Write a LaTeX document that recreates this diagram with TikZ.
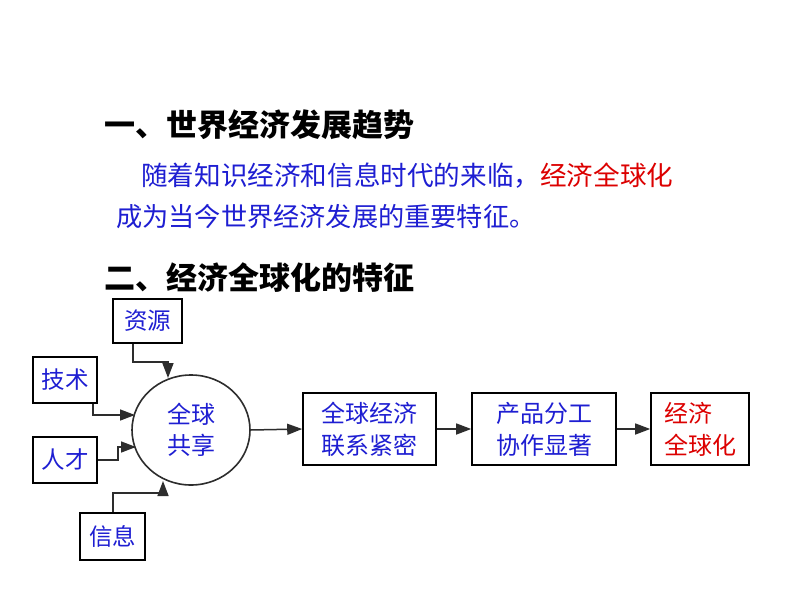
\documentclass[tikz,border=0pt]{standalone}
\usepackage{fontspec}
\setmainfont{Noto Sans CJK SC}
\newfontfamily\cjk{Noto Sans CJK SC}
\usetikzlibrary{arrows.meta,shapes.geometric}
\definecolor{txtblue}{RGB}{30,30,210}
\definecolor{txtred}{RGB}{220,0,0}
\definecolor{linegray}{RGB}{45,45,45}
\tikzset{
  box/.style={draw=black,line width=1.6pt,inner sep=0pt,font=\cjk\fontsize{23.5}{29}\selectfont,text=txtblue,align=center},
  conn/.style={draw=linegray,line width=1.5pt,-{Triangle[length=15pt,width=11pt]}},
  plain/.style={inner sep=0pt,anchor=west}
}
\begin{document}
\begin{tikzpicture}[x=1pt,y=-1pt]
\useasboundingbox (0,0) rectangle (794,596);
\fill[white] (0,0) rectangle (794,596);
% text
\node[plain,font=\cjk\bfseries\fontsize{31}{36}\selectfont] (h1) at (104,125) {一、世界经济发展趋势};
\node[plain,font=\cjk\fontsize{26.6}{32}\selectfont,text=txtblue] (l1) at (141,176) {随着知识经济和信息时代的来临，\textcolor{txtred}{经济全球化}};
\node[plain,font=\cjk\fontsize{26.2}{32}\selectfont,text=txtblue] (l2) at (116,217) {成为当今世界经济发展的重要特征。};
\node[plain,font=\cjk\bfseries\fontsize{31}{36}\selectfont] (h2) at (104,278) {二、经济全球化的特征};
% input boxes
\node[box,minimum width=69pt,minimum height=44pt] (zy) at (147.5,321) {资源};
\node[box,minimum width=64pt,minimum height=46pt] (js) at (65,380) {技术};
\node[box,minimum width=64pt,minimum height=46pt] (rc) at (65,460) {人才};
\node[box,minimum width=65pt,minimum height=47pt] (xx) at (112.5,536.5) {信息};
% circle
\node[draw=linegray,line width=1.6pt,ellipse,minimum width=118pt,minimum height=110pt,inner sep=0pt,
  font=\cjk\fontsize{24}{31}\selectfont,text=txtblue,align=center] (gq) at (191,430) {全球\\共享};
% chain boxes
\node[box,minimum width=133pt,minimum height=72pt,font=\cjk\fontsize{24}{32}\selectfont] (b1) at (369.5,429) {全球经济\\联系紧密};
\node[box,minimum width=144pt,minimum height=72pt,font=\cjk\fontsize{24}{32}\selectfont] (b2) at (544,429) {产品分工\\协作显著};
\node[box,minimum width=98pt,minimum height=72pt,font=\cjk\fontsize{24}{32}\selectfont,text=txtred,align=left] (b3) at (700,429) {经济\\全球化};
% connectors
\coordinate (zyA) at (133,362);
\coordinate (zyB) at (168,362);
\coordinate (zyE) at (168,378);
\draw[conn] (zy.south -| zyA) -- (zyA) -- (zyB) -- (zyE);
\coordinate (jsA) at (93,415);
\coordinate (jsE) at (135,415);
\draw[conn] (js.south -| jsA) -- (jsA) -- (jsE);
\coordinate (rcA) at (118,460);
\coordinate (rcB) at (118,447);
\coordinate (rcE) at (136,447);
\draw[conn] (rc.east) -- (rcA) -- (rcB) -- (rcE);
\coordinate (xxA) at (113,493);
\coordinate (xxB) at (163,493);
\coordinate (xxE) at (163,481);
\draw[conn] (xx.north -| xxA) -- (xxA) -- (xxB) -- (xxE);
\draw[conn] (gq.east) -- (b1.west);
\draw[conn] (b1.east) -- (b2.west);
\draw[conn] (b2.east) -- (b3.west);
\end{tikzpicture}
\end{document}
